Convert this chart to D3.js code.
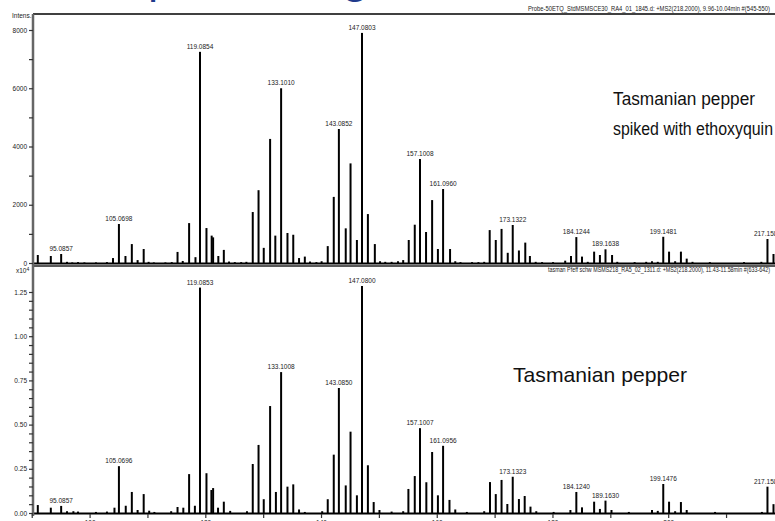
<!DOCTYPE html>
<html>
<head>
<meta charset="utf-8">
<script src="https://cdn.jsdelivr.net/npm/d3@7"></script>
<style>
    html, body { margin: 0; padding: 0; background: #fff; overflow: hidden; }
    text { font-family: 'Liberation Sans', Arial, sans-serif; }
    .small { font-size: 6.5px; fill: #222; }
    .legend { font-family: Lato, 'Open Sans', sans-serif; fill: #111; }
</style>
</head>
<body>
<script>
// spectrum 1: Tasmanian pepper spiked with ethoxyquin (m/z, intensity)
const mzTop = [91.05, 93.3, 95.0857, 96.1, 97.0, 98.0, 99.1, 101.1, 103.0, 104.05, 105.0698, 106.2, 107.3, 108.3, 109.35,
    110.2, 111.1, 113.1, 114.2, 115.2, 116.1, 117.2, 118.3, 119.0854, 120.2, 121.1, 121.35, 122.25, 123.2, 124.1,
    125.1, 126.2, 127.1, 128.2, 129.2, 130.1, 131.2, 132.1, 133.1010, 134.2, 135.2, 136.2, 137.2, 138.1, 139.2,
    140.1, 141.16, 142.2, 143.0852, 144.27, 145.1, 146.2, 147.0803, 148.1, 149.3, 150.2, 151.1, 152.2, 153.3, 154.2,
    155.16, 156.2, 157.1008, 158.15, 159.2, 160.2, 161.0960, 162.3, 163.2, 164.1, 166.1, 167.2, 168.2, 169.15, 170.2,
    171.2, 172.27, 173.1322, 174.2, 175.3, 176.1, 177.1, 178.2, 180.1, 182.2, 183.2, 184.1244, 185.1, 186.1, 187.2,
    188.2, 189.1638, 190.3, 191.2, 194.2, 196.2, 197.2, 198.2, 199.1481, 200.15, 201.2, 202.2, 203.2, 204.2, 207.2,
    213.1, 216.1, 217.158, 218.2]
const intTop = [275, 240, 310, 40, 20, 30, 20, 20, 30, 170, 1340, 240, 650, 100, 480,
    40, 20, 20, 30, 380, 70, 1370, 200, 7250, 1200, 940, 880, 240, 450, 50,
    30, 30, 40, 1750, 2500, 520, 4260, 940, 6000, 1030, 970, 170, 220, 50, 30,
    60, 580, 2270, 4600, 1190, 3420, 790, 7900, 1680, 650, 60, 40, 40, 60, 100,
    790, 1315, 3570, 1065, 2160, 480, 2540, 480, 60, 30, 30, 30, 40, 1130, 790,
    1170, 350, 1305, 430, 700, 240, 40, 30, 30, 80, 240, 890, 220, 40, 390,
    275, 470, 275, 40, 30, 40, 60, 40, 900, 390, 60, 390, 150, 40, 30,
    30, 40, 824, 310]

// spectrum 2: Tasmanian pepper (intensity x10^4)
const mzBot = [91.05, 93.3, 95.0857, 96.1, 97.2, 98.0, 101.1, 103.0, 104.3, 105.0696, 106.25, 107.3, 108.3, 109.35,
    110.3, 111.2, 114.1, 115.2, 116.2, 117.2, 118.2, 119.0853, 120.2, 121.05, 121.35, 122.2, 123.2, 124.3, 127.2,
    128.2, 129.2, 130.1, 131.2, 132.2, 133.1008, 134.2, 135.2, 136.2, 137.2, 140.2, 141.16, 142.2, 143.0850, 144.27,
    145.1, 146.2, 147.0800, 148.1, 149.1, 150.1, 152.2, 154.2, 155.1, 156.2, 157.1007, 158.2, 159.2, 160.2, 161.0956,
    162.2, 163.2, 165.2, 168.2, 169.2, 170.2, 171.2, 172.2, 173.1323, 174.2, 175.2, 176.2, 177.2, 180.2, 183.1,
    184.1240, 185.1, 187.2, 188.2, 189.1630, 190.2, 193.2, 197.2, 198.2, 199.1476, 200.15, 201.2, 202.2, 203.2,
    208.1, 216.2, 217.158, 218.2]
const intBot = [0.045, 0.03, 0.04, 0.01, 0.01, 0.008, 0.006, 0.008, 0.03, 0.265, 0.041, 0.119, 0.017, 0.107,
    0.013, 0.006, 0.01, 0.034, 0.03, 0.22, 0.041, 1.275, 0.225, 0.13, 0.141, 0.03, 0.064, 0.012, 0.01,
    0.277, 0.385, 0.078, 0.605, 0.119, 0.797, 0.149, 0.162, 0.02, 0.006, 0.01, 0.078, 0.33, 0.707, 0.156,
    0.46, 0.10, 1.284, 0.27, 0.062, 0.017, 0.008, 0.01, 0.136, 0.209, 0.48, 0.174, 0.345, 0.10, 0.38,
    0.074, 0.02, 0.006, 0.01, 0.175, 0.107, 0.187, 0.051, 0.205, 0.079, 0.096, 0.036, 0.01, 0.006, 0.017,
    0.119, 0.032, 0.064, 0.023, 0.07, 0.017, 0.006, 0.017, 0.012, 0.164, 0.064, 0.01, 0.062, 0.017,
    0.006, 0.006, 0.149, 0.05]

// annotated peaks
const labelTop = ['95.0857', '105.0698', '119.0854', '133.1010', '143.0852', '147.0803', '157.1008', '161.0960',
    '173.1322', '184.1244', '189.1638', '199.1481', '217.1580']
const labelBot = ['95.0857', '105.0696', '119.0853', '133.1008', '143.0850', '147.0800', '157.1007', '161.0956',
    '173.1323', '184.1240', '189.1630', '199.1476', '217.1580']

const tickTop = [0, 2000, 4000, 6000, 8000]
const tickBot = ['0.00', '0.25', '0.50', '0.75', '1.00', '1.25']
const tickMz = [100, 120, 140, 160, 180, 200]

const headTop = 'Probe-50ETQ_StdMSMSCE30_RA4_01_1845.d: +MS2(218.2000), 9.96-10.04min #(545-550)'
const headBot = 'tasman Pfeff schw MSMS218_RA5_02_1311.d: +MS2(218.2000), 11.43-11.58min #(633-642)'

let w = 775,
    h = 521

let svg = d3.select('body').append('svg')
    .attr('width', w)
    .attr('height', h)

// slide title, mostly cut off above the picture
svg.append('text')
    .style('font-family', 'Lato, sans-serif')
    .style('font-size', '44px')
    .attr('fill', '#1f3b8c')
    .selectAll('tspan')
    .data([['p', 148, -6.5], ['g', 344, -6]])
    .join('tspan')
    .attr('x', d => d[1])
    .attr('y', d => d[2])
    .text(d => d[0])

let x = d3.scaleLinear().domain([90.22, 218.46]).range([33, 775])
let yTop = d3.scaleLinear().domain([0, 8000]).range([263, 30])
let yBot = d3.scaleLinear().domain([0, 1.25]).range([513, 292])

// 画谱峰
function drawPeaks(mz, vals, y) {
    svg.append('g')
        .selectAll('line')
        .data(d3.zip(mz, vals))
        .join('line')
        .attr('x1', d => x(d[0]))
        .attr('x2', d => x(d[0]))
        .attr('y1', y(0))
        .attr('y2', d => y(d[1]))
        .attr('stroke', '#000')
        .attr('stroke-width', 2)
}
drawPeaks(mzTop, intTop, yTop)
drawPeaks(mzBot, intBot, yBot)

// peak labels
function drawLabels(labels, mz, vals, y) {
    svg.append('g')
        .selectAll('text')
        .data(labels)
        .join('text')
        .attr('class', 'small')
        .attr('text-anchor', 'middle')
        .attr('x', d => x(+d))
        .attr('y', d => {
            let i = mz.findIndex(m => Math.abs(m - d) < 0.01)
            return y(vals[i]) - 3
        })
        .text(d => d)
}
drawLabels(labelTop, mzTop, intTop, yTop)
drawLabels(labelBot, mzBot, intBot, yBot)

// frames and baselines
let frame = svg.append('g')
frame.append('line').attr('x1', 33).attr('x2', w).attr('y1', 14).attr('y2', 14)
    .attr('stroke', '#000').attr('stroke-width', 1.5)
frame.append('line').attr('x1', 33).attr('x2', w).attr('y1', yTop(0) + 0.5).attr('y2', yTop(0) + 0.5)
    .attr('stroke', '#000').attr('stroke-width', 2)
frame.append('line').attr('x1', 33).attr('x2', w).attr('y1', 266).attr('y2', 266)
    .attr('stroke', '#222').attr('stroke-width', 1.5)
frame.append('line').attr('x1', 33).attr('x2', w).attr('y1', yBot(0) + 0.5).attr('y2', yBot(0) + 0.5)
    .attr('stroke', '#000').attr('stroke-width', 2)
frame.append('line').attr('x1', 33).attr('x2', 33).attr('y1', 14).attr('y2', 516)
    .attr('stroke', '#666').attr('stroke-width', 2.5)

// y axes
let axTop = svg.append('g')
    .attr('transform', 'translate(33,0)')
    .call(d3.axisLeft(yTop).tickValues(d3.range(0, 8001, 1000))
        .tickSize(4).tickPadding(2)
        .tickFormat(d => tickTop.includes(d) ? d : ''))
let axBot = svg.append('g')
    .attr('transform', 'translate(33,0)')
    .call(d3.axisLeft(yBot).tickValues(d3.range(0, 26).map(i => i * 0.05))
        .tickSize(4).tickPadding(2)
        .tickFormat(d => {
            let s = d.toFixed(2)
            return tickBot.includes(s) ? s : ''
        }))
;[axTop, axBot].forEach(ax => {
    ax.select('.domain').remove()
    ax.selectAll('line').attr('stroke', '#333').attr('stroke-width', 1.2)
    ax.selectAll('text').attr('class', 'small').style('font-size', '6.5px').attr('fill', '#222')
})

// x axis (m/z)
let axX = svg.append('g')
    .attr('transform', 'translate(0,' + (yBot(0) + 1) + ')')
    .call(d3.axisBottom(x).tickValues(d3.range(90, 219, 10))
        .tickSize(4).tickPadding(2)
        .tickFormat(d => tickMz.includes(d) ? d : ''))
axX.select('.domain').remove()
axX.selectAll('line').attr('stroke', '#333').attr('stroke-width', 1.2)
axX.selectAll('text').attr('class', 'small').style('font-size', '6.5px').attr('fill', '#222')

// header texts
svg.append('text').attr('class', 'small').attr('x', 12).attr('y', 18).text('Intens.')
let xe = svg.append('text').attr('class', 'small').attr('x', 16).attr('y', 273)
xe.append('tspan').text('x10')
xe.append('tspan').attr('dy', -2.5).style('font-size', '5px').text('4')
svg.append('text').attr('class', 'small').attr('text-anchor', 'end')
    .attr('x', 770).attr('y', 11)
    .attr('textLength', 242).attr('lengthAdjust', 'spacingAndGlyphs')
    .text(headTop)
svg.append('text').attr('class', 'small').attr('text-anchor', 'end')
    .attr('x', 770).attr('y', 272)
    .attr('textLength', 222).attr('lengthAdjust', 'spacingAndGlyphs')
    .text(headBot)

// legends
let lg = svg.append('g').attr('class', 'legend')
lg.append('text').attr('x', 613).attr('y', 105).style('font-size', '17.5px')
    .attr('textLength', 142).attr('lengthAdjust', 'spacingAndGlyphs').text('Tasmanian pepper')
lg.append('text').attr('x', 613).attr('y', 135).style('font-size', '17.5px')
    .attr('textLength', 160).attr('lengthAdjust', 'spacingAndGlyphs').text('spiked with ethoxyquin')
lg.append('text').attr('x', 513).attr('y', 382).style('font-size', '21px')
    .attr('textLength', 174).attr('lengthAdjust', 'spacingAndGlyphs').text('Tasmanian pepper')
</script>
</body>
</html>
